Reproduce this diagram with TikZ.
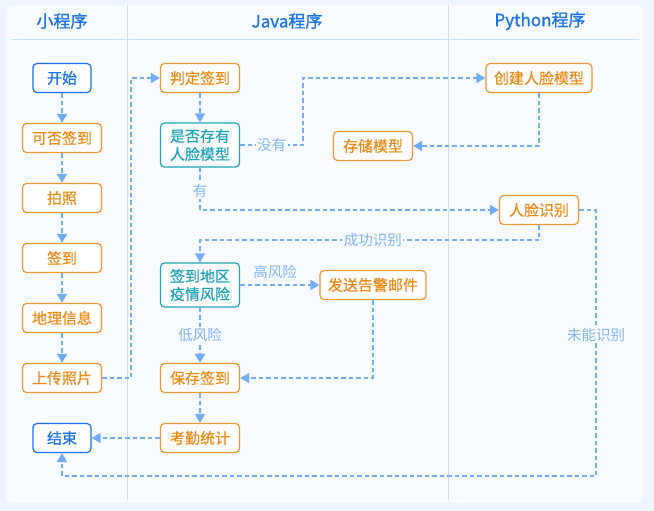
\documentclass[tikz,border=0pt]{standalone}
\usepackage{fontspec}
\setmainfont{Noto Sans CJK SC}
\newfontfamily\boxfont[FakeBold=0.5]{Noto Sans CJK SC}
\newfontfamily\headfont[FakeBold=0.9]{Noto Sans CJK SC}
\usetikzlibrary{arrows.meta}
\definecolor{bgout}{HTML}{EEF5FD}
\definecolor{card}{HTML}{F8FBFF}
\definecolor{gridc}{HTML}{C9DFF7}
\definecolor{hblue}{HTML}{1A73E8}
\definecolor{orng}{HTML}{F0962E}
\definecolor{orngtxt}{HTML}{E98A14}
\definecolor{tealc}{HTML}{1BA3B7}
\definecolor{lnc}{HTML}{6FAEF6}
\definecolor{lblc}{HTML}{7FB5F2}
\begin{document}
\begin{tikzpicture}[x=1pt,y=-1pt,
  box/.style={draw=orng, text=orngtxt, fill=white, rounded corners=4pt, line width=1.2pt,
    minimum width=79pt, minimum height=29pt, inner sep=2pt,
    font=\boxfont\fontsize{15}{18}\selectfont, align=center},
  bluebox/.style={box, draw=hblue, text=hblue, minimum width=58pt},
  tealbox/.style={box, draw=tealc, text=tealc, minimum height=44pt},
  widebox/.style={box, minimum width=106pt},
  flow/.style={lnc, line width=1.3pt, dash pattern=on 4.5pt off 3pt,
    -{Triangle[length=9pt,width=10pt]}},
  lbl/.style={text=lblc, fill=card, inner sep=1.5pt, font=\fontsize{14.5}{17}\selectfont},
  head/.style={text=hblue, font=\headfont\fontsize{17}{20}\selectfont}
]
\useasboundingbox (0,0) rectangle (654,511);
\fill[bgout] (0,0) rectangle (654,511);
\fill[card, rounded corners=6pt] (6,5) rectangle (643,503);
\draw[gridc, line width=1pt] (11,40) -- (639,40);
\draw[gridc, line width=1pt] (127,5) -- (127,500);
\draw[gridc, line width=1pt] (448,5) -- (448,500);

\node[head] (h1) at (62,21) {小程序};
\node[head] (h2) at (287,21) {Java程序};
\node[head] (h3) at (540,21) {Python程序};

% mini program column
\node[bluebox] (ks) at (62,78) {开始};
\node[box] (kf) at (62,138) {可否签到};
\node[box] (pz) at (62,198) {拍照};
\node[box] (qd) at (62,258) {签到};
\node[box] (dl) at (62,318) {地理信息};
\node[box] (sc) at (62,378) {上传照片};
\node[bluebox] (js) at (62,438) {结束};

% java column
\node[box] (pd) at (200,78) {判定签到};
\node[tealbox] (sf) at (200,145) {是否存有\\人脸模型};
\node[box] (cc) at (373,146) {存储模型};
\node[tealbox] (qy) at (200,285) {签到地区\\疫情风险};
\node[widebox] (fs) at (373,285) {发送告警邮件};
\node[box] (bc) at (200,378) {保存签到};
\node[box] (kq) at (200,438) {考勤统计};

% python column
\node[widebox] (cj) at (539,78) {创建人脸模型};
\node[box] (rl) at (539,210) {人脸识别};

% connectors
\draw[flow] (ks) -- (kf);
\draw[flow] (kf) -- (pz);
\draw[flow] (pz) -- (qd);
\draw[flow] (qd) -- (dl);
\draw[flow] (dl) -- (sc);
\draw[flow] (sc.east) -- ++(29,0) |- (pd.west);
\draw[flow] (pd) -- (sf);
\draw[flow] (sf.east) -- node[lbl] (l1) {没有} ++(63,0) |- (cj.west);
\draw[flow] (cj.south) |- (cc.east);
\draw[flow] (sf.south) |- node[lbl, pos=0.27] (l2) {有} (rl.west);
\draw[flow] (rl.south) -- ++(0,15) -| node[lbl, pos=0.245] (l3) {成功识别} (qy.north);
\draw[flow] (rl.east) -- ++(17,0) -- node[lbl, pos=0.47] (l4) {未能识别} ++(0,266) -| (js.south);
\draw[flow] (qy.east) -- (fs.west);
\node[lbl, fill=none] (l5) at (275,272) {高风险};
\draw[flow] (qy.south) -- node[lbl] (l6) {低风险} (bc.north);
\draw[flow] (fs.south) |- (bc.east);
\draw[flow] (bc) -- (kq);
\draw[flow] (kq.west) -- (js.east);
\end{tikzpicture}
\end{document}
